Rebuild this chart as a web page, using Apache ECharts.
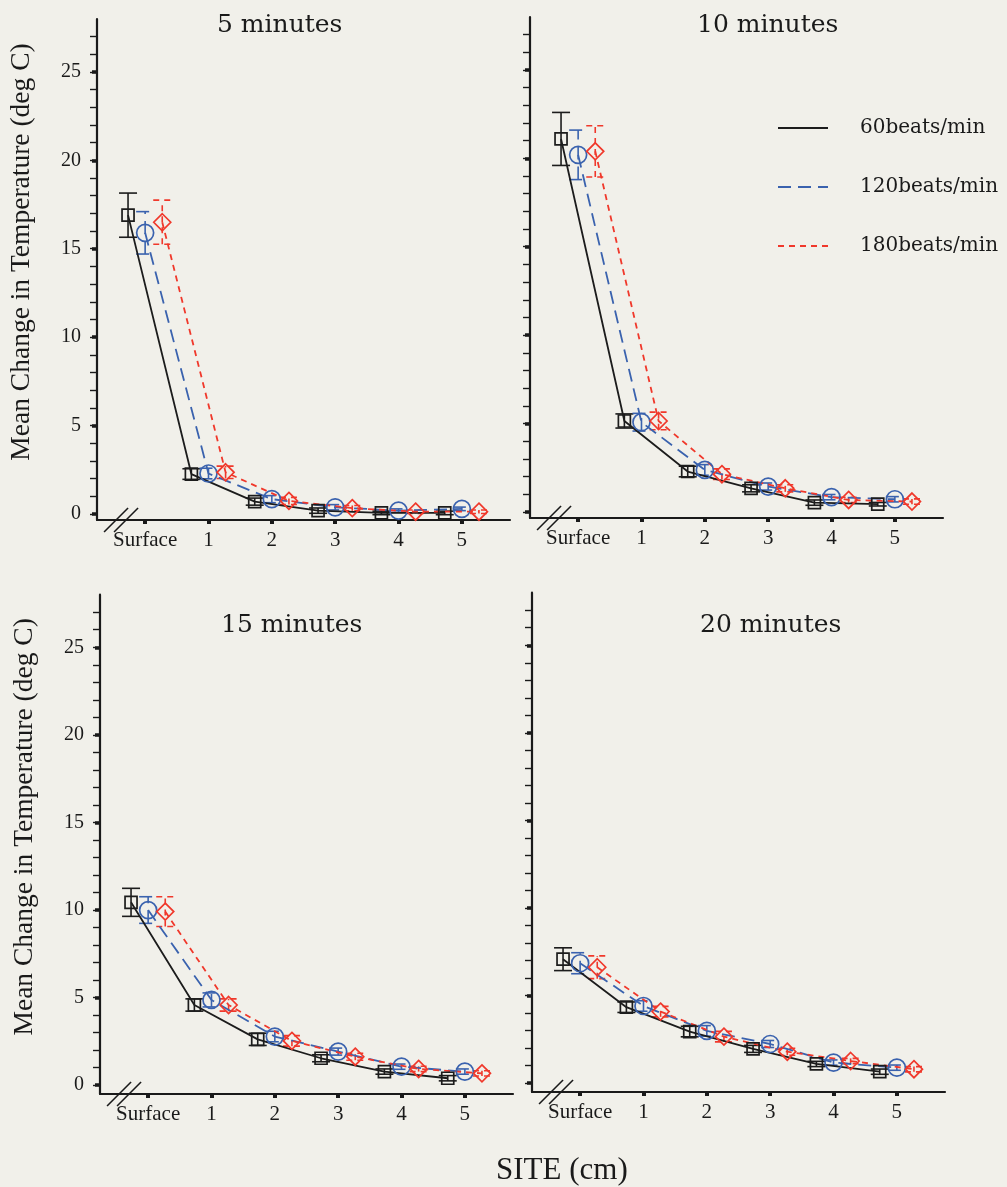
<!DOCTYPE html>
<html>
<head>
<meta charset="utf-8">
<script src="https://cdn.jsdelivr.net/npm/echarts@6/dist/echarts.min.js"></script>
<style>
html, body { margin: 0; padding: 0; background: #f1f0ea; }
#chart { width: 1007px; height: 1187px; }
</style>
</head>
<body>
<div id="chart"></div>
<script>
// Sites along the probe track and the pulse rates compared
const sites = ['Surface', '1', '2', '3', '4', '5'];
const sitePositions = [0, 1, 2, 3, 4, 5];
const rates = ['60beats/min', '120beats/min', '180beats/min'];
const panelTitles = ['5 minutes', '10 minutes', '15 minutes', '20 minutes'];
const yTickLabels = [0, 5, 10, 15, 20, 25];
const yMinorTicks = [0, 1, 2, 3, 4, 5, 6, 7, 8, 9, 10, 11, 12, 13, 14, 15, 16, 17, 18, 19, 20, 21, 22, 23, 24, 25, 26, 27];

// Mean change in temperature (deg C) at each site, and error bar half-widths
const min5_60 = [16.9, 2.25, 0.69, 0.18, 0.05, 0.05];
const min5_60_err = [1.25, 0.3, 0.2, 0.15, 0.1, 0.1];
const min5_120 = [15.9, 2.28, 0.83, 0.37, 0.18, 0.28];
const min5_120_err = [1.2, 0.3, 0.2, 0.15, 0.1, 0.1];
const min5_180 = [16.5, 2.35, 0.73, 0.32, 0.12, 0.12];
const min5_180_err = [1.25, 0.35, 0.2, 0.15, 0.1, 0.1];

const min10_60 = [21.1, 5.14, 2.28, 1.33, 0.52, 0.43];
const min10_60_err = [1.5, 0.4, 0.3, 0.2, 0.15, 0.1];
const min10_120 = [20.2, 5.07, 2.37, 1.43, 0.83, 0.71];
const min10_120_err = [1.4, 0.5, 0.3, 0.2, 0.15, 0.15];
const min10_180 = [20.4, 5.14, 2.13, 1.33, 0.67, 0.58];
const min10_180_err = [1.45, 0.5, 0.3, 0.2, 0.15, 0.15];

const min15_60 = [10.44, 4.58, 2.62, 1.54, 0.78, 0.40];
const min15_60_err = [0.8, 0.35, 0.35, 0.2, 0.15, 0.15];
const min15_120 = [10.0, 4.87, 2.78, 1.92, 1.06, 0.78];
const min15_120_err = [0.76, 0.4, 0.3, 0.2, 0.15, 0.15];
const min15_180 = [9.91, 4.58, 2.53, 1.63, 0.93, 0.68];
const min15_180_err = [0.85, 0.35, 0.3, 0.2, 0.15, 0.15];

const min20_60 = [7.08, 4.34, 2.95, 1.96, 1.10, 0.66];
const min20_60_err = [0.65, 0.3, 0.3, 0.2, 0.15, 0.15];
const min20_120 = [6.85, 4.41, 2.99, 2.24, 1.18, 0.89];
const min20_120_err = [0.6, 0.3, 0.3, 0.2, 0.15, 0.15];
const min20_180 = [6.62, 4.09, 2.66, 1.80, 1.27, 0.80];
const min20_180_err = [0.65, 0.3, 0.3, 0.2, 0.15, 0.15];

const panelSeries = [
  [[min5_60, min5_60_err], [min5_120, min5_120_err], [min5_180, min5_180_err]],
  [[min10_60, min10_60_err], [min10_120, min10_120_err], [min10_180, min10_180_err]],
  [[min15_60, min15_60_err], [min15_120, min15_120_err], [min15_180, min15_180_err]],
  [[min20_60, min20_60_err], [min20_120, min20_120_err], [min20_180, min20_180_err]]
];

// Drawing styles per pulse rate; dodge spreads the three markers around each site
const rateStyles = [
  { color: '#1c1c1c', dash: 'solid', symbol: 'rect', size: 12, dodge: -0.27 },
  { color: '#3a62ae', dash: [13, 7], symbol: 'circle', size: 17, dodge: 0 },
  { color: '#f0382b', dash: [6, 5], symbol: 'diamond', size: 17, dodge: 0.27 }
];

const panels = [
  { left: 97, top: 19, width: 413, height: 501, yMin: -0.35, labels: true, titleLeft: 217, titleTop: 13 },
  { left: 530, top: 17, width: 413, height: 501, yMin: -0.35, labels: false, titleLeft: 697, titleTop: 13 },
  { left: 100, top: 594.7, width: 413, height: 499.3, yMin: -0.5, labels: true, titleLeft: 221, titleTop: 613 },
  { left: 532, top: 592.7, width: 413, height: 499.3, yMin: -0.5, labels: false, titleLeft: 700, titleTop: 613 }
];

const X_MIN = -0.76, X_MAX = 5.76, Y_MAX = 28;
const BREAK_X = -0.38;
const ink = '#1a1a1a';
const serif = '"Liberation Serif", "Times New Roman", serif';
const titleSerif = '"DejaVu Serif", "Liberation Serif", serif';

const grid = [], xAxis = [], yAxis = [], series = [], title = [];

panels.forEach((p, g) => {
  grid.push({ left: p.left, top: p.top, width: p.width, height: p.height, containLabel: false, outerBoundsMode: 'none' });

  xAxis.push({
    type: 'value', gridIndex: g, min: X_MIN, max: X_MAX,
    axisLine: { show: true, onZero: false, lineStyle: { color: ink, width: 2.2 } },
    axisTick: { show: true, inside: false, length: 4, customValues: sitePositions, lineStyle: { color: ink, width: 4 } },
    axisLabel: {
      show: true, customValues: sitePositions, margin: 10,
      formatter: v => sites[Math.round(v)],
      fontFamily: serif, fontSize: 21, color: ink
    },
    splitLine: { show: false }
  });

  // main axis: line, labelled ticks and axis title
  yAxis.push({
    type: 'value', gridIndex: g, min: p.yMin, max: Y_MAX, position: 'left', offset: 0,
    axisLine: { show: true, onZero: false, lineStyle: { color: ink, width: 2.2 } },
    axisTick: { show: true, inside: false, length: 5, customValues: yTickLabels, lineStyle: { color: ink, width: 3.5 } },
    axisLabel: { show: p.labels, customValues: yTickLabels, margin: 16, fontFamily: serif, fontSize: 20, color: ink },
    splitLine: { show: false },
    name: p.labels ? 'Mean Change in Temperature (deg C)' : '',
    nameLocation: 'middle', nameGap: 61,
    nameTextStyle: { fontFamily: serif, fontSize: 27.5, color: ink, padding: [0, 0, 0, 35] }
  });
  // companion axis carrying the unit ticks
  yAxis.push({
    type: 'value', gridIndex: g, min: p.yMin, max: Y_MAX, position: 'left', offset: 0,
    axisLine: { show: false, onZero: false },
    axisTick: { show: true, inside: false, length: 7, customValues: yMinorTicks, lineStyle: { color: ink, width: 1.4 } },
    axisLabel: { show: false },
    splitLine: { show: false }
  });

  title.push({
    text: panelTitles[g], left: p.titleLeft, top: p.titleTop, padding: 0,
    textStyle: { fontFamily: titleSerif, fontSize: 25, fontWeight: 'normal', color: ink }
  });

  panelSeries[g].forEach(([means, errs], r) => {
    const st = rateStyles[r];
    const pts = sitePositions.map((s, i) => [s + st.dodge, means[i]]);
    const bars = sitePositions.map((s, i) => [s + st.dodge, means[i] - errs[i], means[i] + errs[i]]);

    series.push({
      type: 'custom', xAxisIndex: g, yAxisIndex: 2 * g, z: 2, silent: true,
      encode: { x: 0, y: [1, 2] },
      data: bars,
      renderItem: (params, api) => {
        const x = api.value(0);
        const lo = api.coord([x, api.value(1)]);
        const hi = api.coord([x, api.value(2)]);
        const half = 9;
        const style = { stroke: st.color, lineWidth: 1.6, lineDash: st.dash === 'solid' ? null : st.dash, fill: null };
        return {
          type: 'group',
          children: [
            { type: 'line', shape: { x1: lo[0], y1: lo[1], x2: hi[0], y2: hi[1] }, style },
            { type: 'line', shape: { x1: lo[0] - half, y1: lo[1], x2: lo[0] + half, y2: lo[1] }, style },
            { type: 'line', shape: { x1: hi[0] - half, y1: hi[1], x2: hi[0] + half, y2: hi[1] }, style }
          ]
        };
      }
    });

    series.push({
      type: 'line', name: rates[r], xAxisIndex: g, yAxisIndex: 2 * g, z: 3,
      data: pts,
      symbol: st.symbol, symbolSize: st.size, showSymbol: true,
      lineStyle: { color: st.color, width: 1.8, type: st.dash },
      itemStyle: { color: 'transparent', borderColor: st.color, borderWidth: 1.7 }
    });
  });

  // axis break mark on the x axis
  series.push({
    type: 'custom', xAxisIndex: g, yAxisIndex: 2 * g, z: 4, silent: true,
    encode: { x: 0, y: 1 },
    data: [[BREAK_X, p.yMin]],
    renderItem: (params, api) => {
      const c = api.coord([api.value(0), api.value(1)]);
      const style = { stroke: ink, lineWidth: 1.6 };
      return {
        type: 'group',
        children: [-5, 5].map(dx => ({
          type: 'line',
          shape: { x1: c[0] + dx - 12, y1: c[1] + 12, x2: c[0] + dx + 12, y2: c[1] - 12 },
          style
        }))
      };
    }
  });
});

title.push({
  text: 'SITE (cm)', left: 496, top: 1155, padding: 0,
  textStyle: { fontFamily: serif, fontSize: 31, fontWeight: 'normal', color: ink }
});

const chart = echarts.init(document.getElementById('chart'), null, { renderer: 'canvas' });
chart.setOption({
  backgroundColor: '#f1f0ea',
  animation: false,
  title,
  legend: {
    data: rates, orient: 'vertical', left: 772, top: 113,
    itemWidth: 50, itemHeight: 14, itemGap: 39,
    itemStyle: { opacity: 0 },
    textStyle: { fontFamily: titleSerif, fontSize: 20, color: ink, padding: [0, 0, 0, 27] }
  },
  grid, xAxis, yAxis, series
});
</script>
</body>
</html>
